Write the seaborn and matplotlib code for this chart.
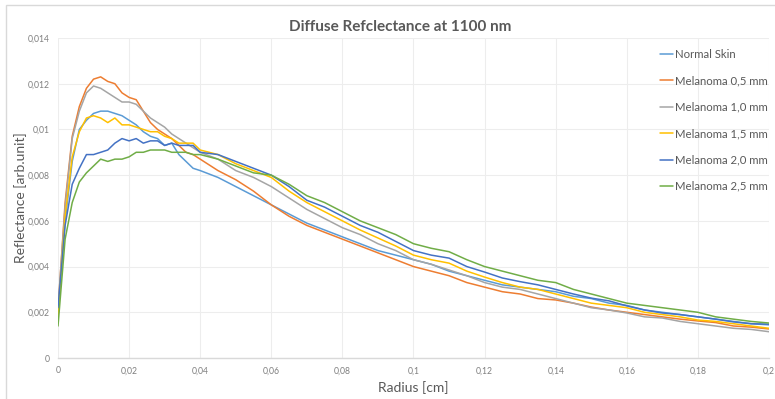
import numpy as np
import pandas as pd
import matplotlib
matplotlib.use("Agg")
import matplotlib.pyplot as plt
from matplotlib.ticker import FuncFormatter, MultipleLocator
from matplotlib.patches import Rectangle
import seaborn as sns

radius = [0.000, 0.002, 0.004, 0.006, 0.008, 0.010, 0.012, 0.014, 0.016, 0.018,
          0.020, 0.022, 0.024, 0.026, 0.028, 0.030, 0.032, 0.034, 0.036, 0.038,
          0.040, 0.045, 0.050, 0.055, 0.060, 0.065, 0.070, 0.075, 0.080, 0.085,
          0.090, 0.095, 0.100, 0.105, 0.110, 0.115, 0.120, 0.125, 0.130, 0.135,
          0.140, 0.145, 0.150, 0.155, 0.160, 0.165, 0.170, 0.175, 0.180, 0.185,
          0.190, 0.195, 0.200]

normal_skin = [0.0020, 0.0060, 0.0086, 0.0100, 0.0104, 0.0107, 0.0108, 0.0108, 0.0107, 0.0106,
               0.0104, 0.0102, 0.0099, 0.0097, 0.0096, 0.0093, 0.0094, 0.0089, 0.0086, 0.0083,
               0.0082, 0.0079, 0.0075, 0.0071, 0.0067, 0.0063, 0.0059, 0.0056, 0.0053, 0.0050,
               0.0047, 0.0045, 0.0043, 0.0041, 0.0038, 0.0036, 0.0034, 0.0032, 0.0031, 0.0030,
               0.0029, 0.0027, 0.0026, 0.0024, 0.0023, 0.0021, 0.0020, 0.0019, 0.0018, 0.0017,
               0.0016, 0.0015, 0.00145]

melanoma_05 = [0.0021, 0.0068, 0.0097, 0.0110, 0.0118, 0.0122, 0.0123, 0.0121, 0.0120, 0.0116,
               0.0114, 0.0113, 0.0108, 0.0103, 0.0100, 0.0098, 0.0096, 0.0093, 0.0090, 0.0089,
               0.0087, 0.0082, 0.0078, 0.0073, 0.0067, 0.0062, 0.0058, 0.0055, 0.0052, 0.0049,
               0.0046, 0.0043, 0.0040, 0.0038, 0.0036, 0.0033, 0.0031, 0.0029, 0.0028, 0.0026,
               0.00254, 0.0024, 0.00223, 0.0021, 0.0020, 0.0019, 0.0018, 0.0017, 0.00162, 0.00155,
               0.0014, 0.00135, 0.00127]

melanoma_10 = [0.0022, 0.0066, 0.0096, 0.0108, 0.0116, 0.0119, 0.0118, 0.0116, 0.0114, 0.0112,
               0.0112, 0.0111, 0.0108, 0.0105, 0.0103, 0.0101, 0.0098, 0.0096, 0.0094, 0.0092,
               0.0090, 0.0087, 0.0082, 0.0079, 0.0075, 0.0070, 0.0065, 0.0061, 0.0057, 0.0054,
               0.0050, 0.0047, 0.0043, 0.0041, 0.00385, 0.0036, 0.0033, 0.0031, 0.0030, 0.0028,
               0.0026, 0.0024, 0.0022, 0.0021, 0.00197, 0.0018, 0.00175, 0.0016, 0.0015, 0.0014,
               0.0013, 0.00125, 0.00115]

melanoma_15 = [0.0018, 0.0062, 0.0088, 0.0099, 0.0105, 0.0106, 0.0105, 0.0103, 0.0105, 0.0102,
               0.0102, 0.0101, 0.0100, 0.0099, 0.0099, 0.0097, 0.0096, 0.0094, 0.0094, 0.0094,
               0.0091, 0.0089, 0.0085, 0.0082, 0.0079, 0.0073, 0.0068, 0.0064, 0.0060, 0.0056,
               0.00525, 0.0049, 0.0045, 0.0043, 0.00415, 0.0038, 0.00354, 0.0033, 0.0031, 0.0030,
               0.0028, 0.0026, 0.0024, 0.0023, 0.0022, 0.0020, 0.0019, 0.0018, 0.00166, 0.0016,
               0.0015, 0.0014, 0.0013]

melanoma_20 = [0.0022, 0.0058, 0.0076, 0.0083, 0.0089, 0.0089, 0.0090, 0.0091, 0.0094, 0.0096,
               0.0095, 0.0096, 0.0094, 0.0095, 0.0095, 0.0093, 0.0094, 0.0093, 0.0093, 0.0093,
               0.0090, 0.0089, 0.0086, 0.0083, 0.0080, 0.0075, 0.0069, 0.0066, 0.0062, 0.0058,
               0.0055, 0.0051, 0.0047, 0.0045, 0.00437, 0.0040, 0.00376, 0.0035, 0.00334, 0.0032,
               0.0030, 0.0028, 0.00262, 0.0025, 0.00228, 0.0021, 0.00197, 0.0019, 0.0018, 0.0017,
               0.00158, 0.0015, 0.00148]

melanoma_25 = [0.0014, 0.0052, 0.0068, 0.0077, 0.0081, 0.0084, 0.0087, 0.0086, 0.0087, 0.0087,
               0.0088, 0.0090, 0.0090, 0.0091, 0.0091, 0.0091, 0.0090, 0.0090, 0.0090, 0.0089,
               0.0089, 0.0087, 0.0084, 0.0081, 0.0080, 0.0076, 0.0071, 0.0068, 0.0064, 0.0060,
               0.0057, 0.0054, 0.0050, 0.0048, 0.00465, 0.0043, 0.0040, 0.0038, 0.0036, 0.0034,
               0.0033, 0.0030, 0.0028, 0.0026, 0.0024, 0.0023, 0.0022, 0.0021, 0.0020, 0.0018,
               0.0017, 0.0016, 0.00153]

series_names = ["Normal Skin", "Melanoma 0,5 mm", "Melanoma 1,0 mm",
                "Melanoma 1,5 mm", "Melanoma 2,0 mm", "Melanoma 2,5 mm"]
series_values = [normal_skin, melanoma_05, melanoma_10, melanoma_15, melanoma_20, melanoma_25]
colors = ["#5B9BD5", "#ED7D31", "#A5A5A5", "#FFC000", "#4472C4", "#70AD47"]

title = "Diffuse Refclectance at 1100 nm"
x_label = "Radius [cm]"
y_label = "Reflectance [arb.unit]"

frames = []
for name, vals in zip(series_names, series_values):
    frames.append(pd.DataFrame({"Radius": radius, "Reflectance": vals, "Series": name}))
df = pd.concat(frames, ignore_index=True)

sns.set_theme(style="white")
plt.rcParams["font.family"] = ["Lato", "DejaVu Sans"]

W, H = 775, 399
fig = plt.figure(figsize=(W / 100, H / 100), dpi=100)
ax = fig.add_axes([58 / W, 1 - 358 / H, (769 - 58) / W, (358 - 38) / H])

sns.lineplot(data=df, x="Radius", y="Reflectance", hue="Series",
             hue_order=series_names, palette=colors, linewidth=1.1,
             ax=ax, legend=True, estimator=None, sort=False)

ax.set_xlim(0, 0.2)
ax.set_ylim(0, 0.014)
ax.xaxis.set_major_locator(MultipleLocator(0.02))
ax.yaxis.set_major_locator(MultipleLocator(0.002))

def comma_fmt(v, pos):
    s = "%g" % round(v, 6)
    return s.replace(".", ",")

ax.xaxis.set_major_formatter(FuncFormatter(comma_fmt))
ax.yaxis.set_major_formatter(FuncFormatter(comma_fmt))
ax.tick_params(axis="both", labelsize=6.2, colors="#7F7F7F", length=0, pad=6)

ax.grid(True, color="#EDEDED", linewidth=0.8)
ax.set_axisbelow(True)
for side in ["top", "right", "left"]:
    ax.spines[side].set_visible(False)
ax.spines["bottom"].set_color("#D9D9D9")
ax.spines["bottom"].set_linewidth(1.0)

ax.set_xlabel(x_label, fontsize=10, color="#595959", labelpad=4)
ax.set_ylabel(y_label, fontsize=10, color="#595959")
ax.yaxis.set_label_coords((27 - 58) / (769 - 58), 0.5)

fig.text(400 / W, 1 - 27 / H, title, ha="center", va="center",
         fontsize=11, fontweight="bold", color="#595959")

handles, labels = ax.get_legend_handles_labels()
ax.legend(handles, labels, loc="upper left", bbox_to_anchor=(660 / W, 1 - 49 / H),
          bbox_transform=fig.transFigure, frameon=False, fontsize=8.2,
          labelspacing=1.35, handlelength=1.1, handletextpad=0.2,
          borderpad=0, borderaxespad=0, labelcolor="#595959")

fig.patches.append(Rectangle((6 / W, -0.05), 1.2, 1 - 5 / H + 0.05,
                             transform=fig.transFigure, fill=False,
                             edgecolor="#D9D9D9", linewidth=1.0))

fig.savefig("out.png", dpi=100)
